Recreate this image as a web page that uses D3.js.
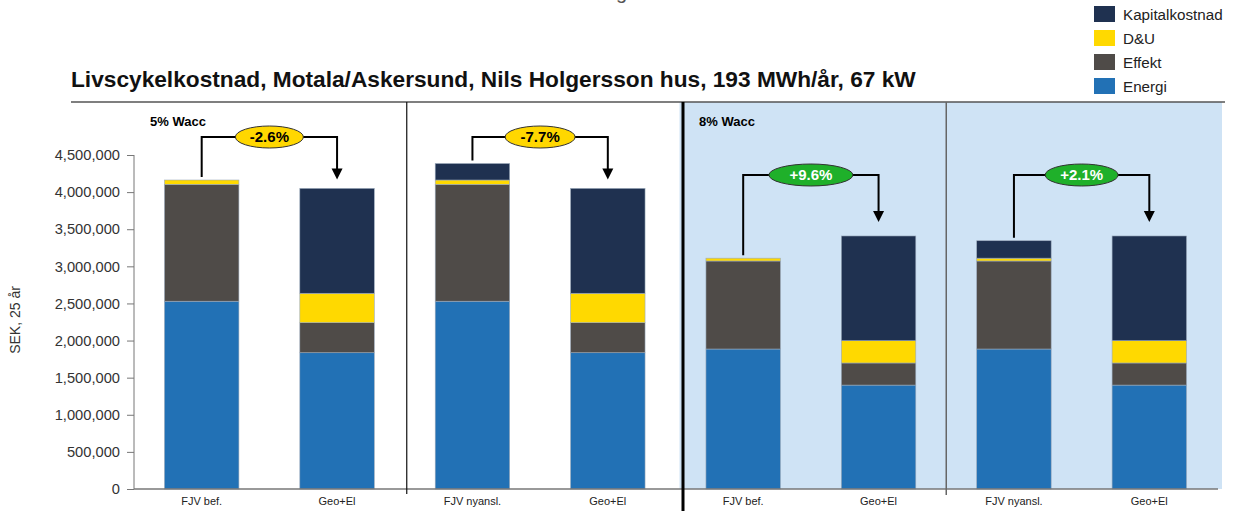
<!DOCTYPE html>
<html>
<head>
<meta charset="utf-8">
<script src="https://cdn.jsdelivr.net/npm/d3@7"></script>
<style>
  body { margin: 0; background: #fff; }
  svg { font-family: "Liberation Sans", Arial, sans-serif; display: block; }
</style>
</head>
<body>
<div id="chart"></div>
<script>
// data (SEK over 25 years)
const categories = ["FJV bef.", "Geo+El", "FJV nyansl.", "Geo+El", "FJV bef.", "Geo+El", "FJV nyansl.", "Geo+El"];
const energi = [2530000, 1836000, 2530000, 1836000, 1886000, 1400000, 1886000, 1400000];
const effekt = [1575000, 405000, 1575000, 405000, 1186000, 298000, 1186000, 298000];
const dou = [58000, 396000, 58000, 396000, 38000, 300000, 38000, 300000];
const kapital = [0, 1413000, 222000, 1413000, 0, 1411000, 235000, 1411000];
const seriesNames = ["Energi", "Effekt", "D&U", "Kapitalkostnad"];
const yTicks = [0, 500000, 1000000, 1500000, 2000000, 2500000, 3000000, 3500000, 4000000, 4500000];
const changeLabels = ["-2.6%", "-7.7%", "+9.6%", "+2.1%"];
const waccLabels = ["5% Wacc", "8% Wacc"];

const colors = { "Energi": "#2271b5", "Effekt": "#4f4b48", "D&U": "#ffd900", "Kapitalkostnad": "#1f3150" };

const W = 1236, H = 511;
const svg = d3.select("#chart").append("svg").attr("width", W).attr("height", H);

const rows = categories.map((c, i) => ({
  key: i, cat: c,
  "Energi": energi[i], "Effekt": effekt[i], "D&U": dou[i], "Kapitalkostnad": kapital[i]
}));
const stack = d3.stack().keys(seriesNames)(rows);
const totals = rows.map((d, i) => energi[i] + effekt[i] + dou[i] + kapital[i]);

const x = d3.scaleBand().domain(rows.map(d => d.key)).range([134, 1217]).paddingInner(0.45).paddingOuter(0.225);
const y = d3.scaleLinear().domain([0, 4500000]).range([489, 155]);
const plotTop = 102, plotRight = 1222;

// light blue area for the 8% half
const mid = (a, b) => (x(a) + x.bandwidth() + x(b)) / 2;
const split = mid(3, 4) + 4;
svg.append("rect").attr("x", split).attr("y", plotTop).attr("width", plotRight - split).attr("height", y(0) - plotTop)
  .attr("fill", "#cfe3f5");

// title
svg.append("text").attr("x", 71).attr("y", 87).attr("font-size", 22.7).attr("font-weight", "bold").attr("fill", "#111")
  .text("Livscykelkostnad, Motala/Askersund, Nils Holgersson hus, 193 MWh/år, 67 kW");
// cut-off text at the top edge (as in the reference)
svg.append("text").attr("x", 616).attr("y", -1).attr("font-size", 20).attr("fill", "#555").text("g");

// top border
svg.append("line").attr("x1", 71).attr("x2", 1225).attr("y1", plotTop).attr("y2", plotTop)
  .attr("stroke", "#555").attr("stroke-width", 1.5);

// bars
svg.append("g").selectAll("g").data(stack).join("g")
  .attr("fill", d => colors[d.key])
  .selectAll("rect").data(d => d.filter(p => p[1] - p[0] > 0)).join("rect")
  .attr("x", d => x(d.data.key))
  .attr("width", x.bandwidth())
  .attr("y", d => y(d[1]))
  .attr("height", d => y(d[0]) - y(d[1]))
  .attr("stroke", "#9aa9ba").attr("stroke-width", 0.6);

// axes
const yAxis = svg.append("g").attr("transform", "translate(134,0)")
  .call(d3.axisLeft(y).tickValues(yTicks).tickSize(7).tickPadding(7).tickFormat(d3.format(",")));
yAxis.selectAll("text").attr("font-size", 14.7).attr("fill", "#333").attr("font-family", "Liberation Sans, Arial, sans-serif");
yAxis.selectAll("line, path").attr("stroke", "#777");
yAxis.select(".domain").attr("d", `M0,${y(4500000)}V${y(0)}`);

const xAxis = svg.append("g").attr("transform", `translate(0,${y(0)})`)
  .call(d3.axisBottom(x).tickSize(0).tickPadding(8).tickFormat(i => categories[i]));
xAxis.select(".domain").attr("d", `M134,0H1218`).attr("stroke", "#777").attr("stroke-width", 1.5);
xAxis.selectAll("text").attr("font-size", 11).attr("fill", "#222").attr("font-family", "Liberation Sans, Arial, sans-serif");

svg.append("text").attr("transform", "translate(20,320) rotate(-90)").attr("text-anchor", "middle")
  .attr("font-size", 14).attr("fill", "#333").text("SEK, 25 år");

// panel dividers
svg.append("line").attr("x1", mid(1, 2) + 2).attr("x2", mid(1, 2) + 2).attr("y1", plotTop).attr("y2", 494)
  .attr("stroke", "#111").attr("stroke-width", 1.2);
svg.append("line").attr("x1", split + 3.5).attr("x2", split + 3.5).attr("y1", plotTop).attr("y2", H)
  .attr("stroke", "#000").attr("stroke-width", 3);
svg.append("line").attr("x1", mid(5, 6)).attr("x2", mid(5, 6)).attr("y1", plotTop).attr("y2", 495)
  .attr("stroke", "#666").attr("stroke-width", 1.5);

// wacc labels
svg.append("text").attr("x", 150).attr("y", 126).attr("font-size", 13).attr("font-weight", "bold").text(waccLabels[0]);
svg.append("text").attr("x", 699).attr("y", 126).attr("font-size", 13).attr("font-weight", "bold").text(waccLabels[1]);

// change brackets
const bracketY = [137, 137, 175, 175];
const ellipseW = [68, 70, 84, 73];
const tipGap = [9, 9, 14, 14];
changeLabels.forEach((lab, k) => {
  const a = 2 * k, b = 2 * k + 1;
  const xa = x(a) + x.bandwidth() / 2, xb = x(b) + x.bandwidth() / 2;
  const by = bracketY[k];
  const ya = y(totals[a]) - 3, tip = y(totals[b]) - tipGap[k];
  const g = svg.append("g");
  g.append("path").attr("d", `M${xa},${ya}V${by}H${xb}V${tip - 9}`)
    .attr("fill", "none").attr("stroke", "#000").attr("stroke-width", 2);
  g.append("path").attr("d", `M${xb - 5.5},${tip - 11}L${xb + 5.5},${tip - 11}L${xb},${tip}Z`).attr("fill", "#000");
  const pos = lab.startsWith("+");
  const cx = (xa + xb) / 2;
  g.append("ellipse").attr("cx", cx).attr("cy", by).attr("rx", ellipseW[k] / 2).attr("ry", 11)
    .attr("fill", pos ? "#1fb02a" : "#ffd700").attr("stroke", "#333").attr("stroke-width", 1);
  g.append("text").attr("x", cx).attr("y", by + 5).attr("text-anchor", "middle")
    .attr("font-size", 15).attr("font-weight", "bold").attr("fill", pos ? "#fff" : "#000").text(lab);
});

// legend
const legendOrder = ["Kapitalkostnad", "D&U", "Effekt", "Energi"];
const lg = svg.append("g").selectAll("g").data(legendOrder).join("g")
  .attr("transform", (d, i) => `translate(1094,${6 + i * 24})`);
lg.append("rect").attr("width", 21).attr("height", 16).attr("fill", d => colors[d]);
lg.append("text").attr("x", 29).attr("y", 13.5).attr("font-size", 15.2).attr("fill", "#222").text(d => d);
</script>
</body>
</html>
